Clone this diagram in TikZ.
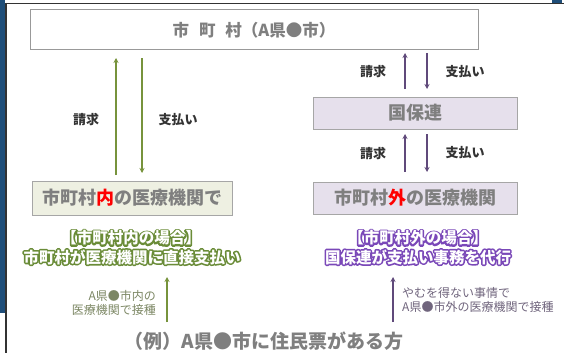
\documentclass[tikz,border=0pt]{standalone}
\usepackage{fontspec}
\setmainfont{Noto Sans CJK JP}
\usetikzlibrary{arrows.meta}
\definecolor{grn}{HTML}{77933C}
\definecolor{dgrn}{HTML}{6A8C38}
\definecolor{prp}{HTML}{604A7B}
\definecolor{vio}{HTML}{7A48B8}
\definecolor{txtgray}{HTML}{7F7F7F}
\definecolor{lblk}{HTML}{333333}
\definecolor{boxg}{HTML}{EEF0E2}
\definecolor{boxp}{HTML}{E6E0EC}
\definecolor{navy}{HTML}{1F4E79}
\tikzset{
  x=1pt, y=-1pt,
  flow/.style={line width=1.8pt, -{Stealth[length=5pt,width=5pt]}},
  gflow/.style={flow, draw=grn},
  pflow/.style={flow, draw=prp},
  lab/.style={font=\fontsize{13}{13}\selectfont\bfseries, text=lblk},
  boxtxt/.style={font=\fontsize{18}{18}\selectfont\bfseries, text=txtgray},
  small/.style={font=\fontsize{12}{14.5}\selectfont, inner sep=0pt},
  glow/.style={font=\fontsize{15.5}{15.5}\selectfont\bfseries, inner sep=0pt},
}
\newcommand\glowtxt[3]{\rlap{\special{pdf:literal direct 1 Tr 3.2 w 1 j}\textcolor{#1}{#3}\special{pdf:literal direct 0 Tr 0.4 w}}\textcolor{#2}{#3}}
\begin{document}
\begin{tikzpicture}
\useasboundingbox (0,0) rectangle (564,353);
% frame remnants
\fill[navy] (0,0) rectangle (5,313);
\fill[navy] (552,0) rectangle (562,3);
\draw[line width=1.5pt, black!80] (5,3.5) -- (564,3.5);
\draw[line width=1.5pt, black!80] (6,3) -- (6,353);
% top box
\node[draw=black!40, line width=1pt, fill=white, minimum width=448pt, minimum height=40pt, inner sep=0pt,
  font=\fontsize{16.5}{16.5}\selectfont\bfseries, text=txtgray] (city) at (254,30) {市\hspace{0.6em}町\hspace{0.6em}村（A県●市）};
% left box
\node[draw=black!35, line width=1pt, fill=boxg, minimum width=200pt, minimum height=34pt, inner sep=0pt, boxtxt] (inbox) at (132,198) {市町村\textcolor{red}{内}の医療機関で};
% right boxes
\node[draw=black!35, line width=1pt, fill=boxp, minimum width=204pt, minimum height=32pt, inner sep=0pt, boxtxt] (kokuho) at (415,113) {国保連};
\node[draw=black!35, line width=1pt, fill=boxp, minimum width=204pt, minimum height=32pt, inner sep=0pt, boxtxt] (outbox) at (415,198) {市町村\textcolor{red}{外}の医療機関};
% left arrows
\coordinate (lu1) at (116,175); \coordinate (lu2) at (116,58);
\coordinate (ld1) at (142,58); \coordinate (ld2) at (142,173);
\draw[gflow] (lu1) -- (lu2);
\draw[gflow] (ld1) -- (ld2);
\node[lab] (lreq) at (86,120) {請求};
\node[lab] (lpay) at (178,120) {支払い};
% right arrows upper
\coordinate (ru1) at (405,89); \coordinate (ru2) at (405,53);
\coordinate (rd1) at (427,53); \coordinate (rd2) at (427,89);
\draw[pflow] (ru1) -- (ru2);
\draw[pflow] (rd1) -- (rd2);
\node[lab] (rreq1) at (373,72) {請求};
\node[lab] (rpay1) at (465,72) {支払い};
% right arrows lower
\coordinate (su1) at (405,172); \coordinate (su2) at (405,134);
\coordinate (sd1) at (427,134); \coordinate (sd2) at (427,172);
\draw[pflow] (su1) -- (su2);
\draw[pflow] (sd1) -- (sd2);
\node[lab] (rreq2) at (373,153) {請求};
\node[lab] (rpay2) at (465,153) {支払い};
% glow texts
\node[glow] (gt1) at (131,238) {\glowtxt{dgrn}{white}{【市町村内の場合】}};
\node[glow] (gt2) at (132,257) {\glowtxt{dgrn}{white}{市町村が医療機関に直接支払い}};
\node[glow] (pt1) at (418,238) {\glowtxt{vio}{white}{【市町村外の場合】}};
\node[glow] (pt2) at (418,257) {\glowtxt{vio}{white}{国保連が支払い事務を代行}};
% small arrows
\coordinate (sa1) at (167,322); \coordinate (sa2) at (167,277);
\draw[grn, line width=1.8pt, -{Stealth[length=5pt,width=5pt]}] (sa1) -- (sa2);
\node[small, align=right, anchor=east, text=grn!40!gray] (lnote) at (156,303) {A県●市内の\\医療機関で接種};
\coordinate (sb1) at (393,322); \coordinate (sb2) at (393,277);
\draw[prp, line width=1.8pt, -{Stealth[length=5pt,width=5pt]}] (sb1) -- (sb2);
\node[small, align=left, anchor=west, text=prp!50!gray] (rnote) at (402,300) {やむを得ない事情で\\A県●市外の医療機関で接種};
% bottom
\node[font=\fontsize{19}{19}\selectfont\bfseries, text=txtgray] (bottom) at (264,341) {（例）A県●市に住民票がある方};
\end{tikzpicture}
\end{document}
